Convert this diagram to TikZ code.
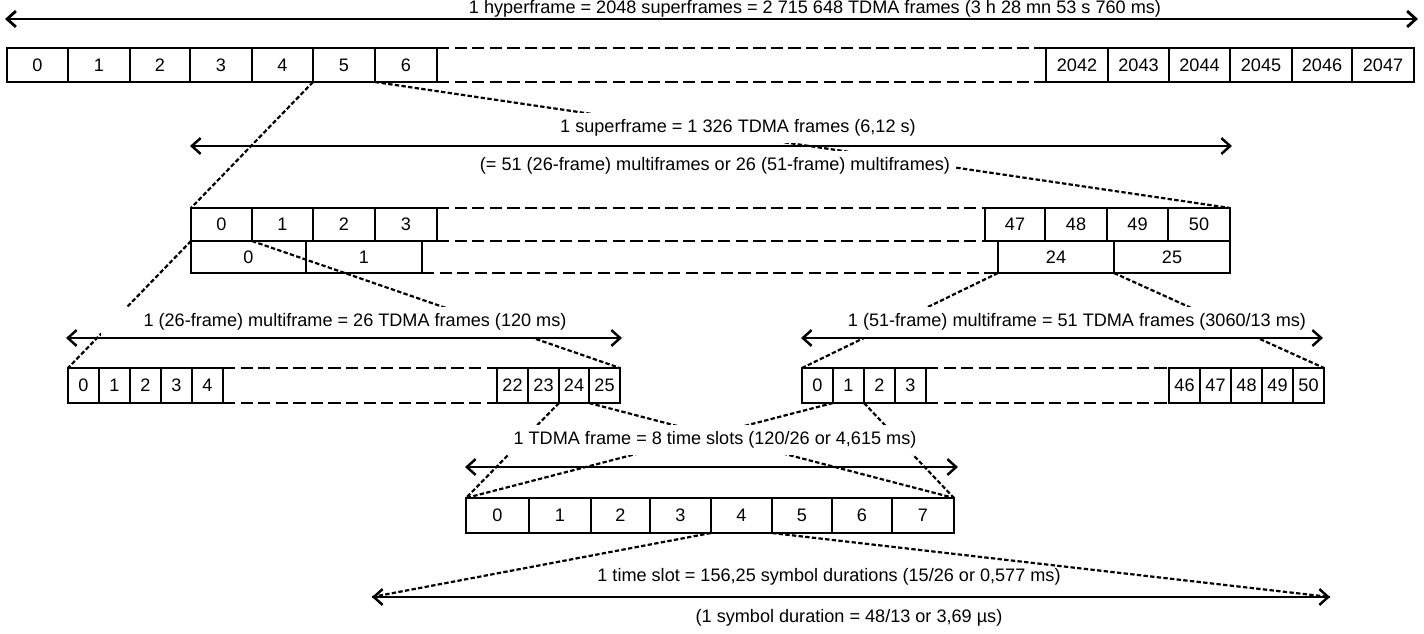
\documentclass[tikz,border=0pt]{standalone}
\usepackage{fontspec}
\setmainfont{Liberation Sans}
\usetikzlibrary{arrows.meta}
\tikzset{
  cell/.style={draw, line width=1.3pt, anchor=north west, inner sep=0pt, outer sep=0pt, font=\fontsize{10.3}{12}\selectfont},
  gapline/.style={line width=1.3pt, dash pattern=on 7pt off 3pt},
  zoomline/.style={line width=1.25pt, dash pattern=on 2.5pt off 1.3pt},
  span/.style={line width=1.4pt, {Straight Barb[length=5pt,width=9pt]}-{Straight Barb[length=5pt,width=9pt]}},
  lbl/.style={fill=white, inner xsep=3pt, inner ysep=4pt, font=\fontsize{10.3}{12}\selectfont},
  plainlbl/.style={inner sep=0.5pt, font=\fontsize{10.3}{12}\selectfont},
}
\newcommand\mycells[4]{%
  \foreach \l/\xx/\ww in {#4} {%
    \node[cell, minimum width=\ww*0.02cm, minimum height=#3*0.02cm] (#1\l) at (\xx,#2) {\l};%
  }%
}
\begin{document}
\begin{tikzpicture}[x=0.02cm,y=-0.02cm]
\useasboundingbox (0,0) rectangle (1424,633);
\clip (0,0) rectangle (1424,633);

% rows of cells
\mycells{h}{48}{34}{0/7/61,1/68/62,2/130/60,3/190/62,4/252/61,5/313/62,6/375/62,2042/1046/62,2043/1108/61,2044/1169/61,2045/1230/62,2046/1292/60,2047/1352/62}
\mycells{a}{208}{33}{0/191/61,1/252/61,2/313/62,3/375/62,47/985/60,48/1045/62,49/1107/61,50/1168/62}
\mycells{b}{241}{32}{0/191/115,1/306/116,24/998/116,25/1114/116}
\mycells{c}{368}{35}{0/68/31,1/99/31,2/130/31,3/161/31,4/192/31,22/497/31,23/528/31,24/559/30,25/589/31}
\mycells{d}{368}{35}{0/802/31,1/833/31,2/864/31,3/895/31,46/1169/31,47/1200/31,48/1231/31,49/1262/31,50/1293/31}
\mycells{e}{498}{35}{0/466/63,1/529/62,2/591/59,3/650/61,4/711/61,5/772/60,6/832/60,7/892/62}

% dashed continuations of the rows
\draw[gapline] (h6.north east) -- (h2042.north west);
\draw[gapline] (h6.south east) -- (h2042.south west);
\draw[gapline] (a3.north east) -- (a47.north west);
\draw[gapline] (a3.south east) -- (a47.south west);
\draw[gapline] (b1.south east) -- (b24.south west);
\draw[gapline] (c4.north east) -- (c22.north west);
\draw[gapline] (c4.south east) -- (c22.south west);
\draw[gapline] (d3.north east) -- (d46.north west);
\draw[gapline] (d3.south east) -- (d46.south west);

% arrow end points
\coordinate (hl) at (5,19);   \coordinate (hr) at (1418,19);
\coordinate (sfl) at (190,146); \coordinate (sfr) at (1232,146);
\coordinate (ml) at (66,338);  \coordinate (mr) at (622,338);
\coordinate (nl) at (801,338); \coordinate (nr) at (1323,338);
\coordinate (tl) at (465,467); \coordinate (tr) at (958,467);
\coordinate (sl) at (372,597); \coordinate (sr) at (1330,597);

% zoom lines
\draw[zoomline] (h5.south west) -- (a0.north west);
\draw[zoomline] (h5.south east) -- (a50.north east);
\draw[zoomline] (a0.south west) -- (c0.north west);
\draw[zoomline] (a0.south east) -- (c25.north east);
\draw[zoomline] (b24.south west) -- (d0.north west);
\draw[zoomline] (b24.south east) -- (d50.north east);
\draw[zoomline] (c24.south west) -- (e0.north west);
\draw[zoomline] (c24.south east) -- (e7.north east);
\draw[zoomline] (d1.south west) -- (e0.north west);
\draw[zoomline] (d1.south east) -- (e7.north east);
\draw[zoomline] (e4.south west) -- (sl);
\draw[zoomline] (e4.south east) -- (sr);

% labels
\node[plainlbl, anchor=base] (hyperlbl) at (815,13.5) {1 hyperframe = 2048 superframes = 2 715 648 TDMA frames (3 h 28 mn 53 s 760 ms)};
\node[lbl] (suplbl) at (738,128) {1 superframe = 1 326 TDMA frames (6,12 s)};
\node[lbl] (suplblb) at (715,166) {(= 51 (26-frame) multiframes or 26 (51-frame) multiframes)};
\node[lbl, inner xsep=24pt] (m26lbl) at (355,322) {1 (26-frame) multiframe = 26 TDMA frames (120 ms)};
\node[lbl] (m51lbl) at (1077,322) {1 (51-frame) multiframe = 51 TDMA frames (3060/13 ms)};
\node[lbl] (tdmalbl) at (715,440) {1 TDMA frame = 8 time slots (120/26 or 4,615 ms)};
\node[plainlbl] (slotlbl) at (829,577) {1 time slot = 156,25 symbol durations (15/26 or 0,577 ms)};
\node[plainlbl] (symlbl) at (849,618) {(1 symbol duration = 48/13 or 3,69 µs)};

% span arrows
\draw[span, line width=1.6pt] (hl) -- (hr);
\draw[span] (sfl) -- (sfr);
\draw[span] (ml) -- (mr);
\draw[span] (nl) -- (nr);
\draw[span] (tl) -- (tr);
\draw[span] (sl) -- (sr);
\end{tikzpicture}
\end{document}
